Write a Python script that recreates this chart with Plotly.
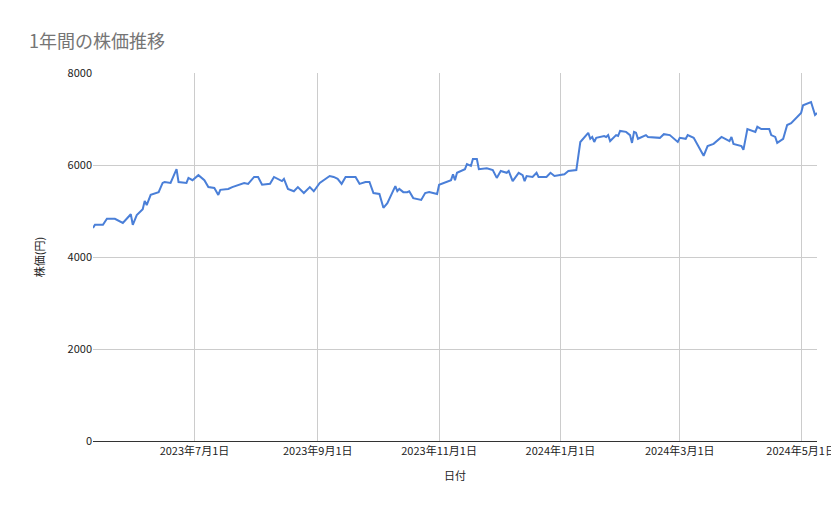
import plotly.graph_objects as go

dates = [
    "2023-05-11", "2023-05-12", "2023-05-16", "2023-05-18", "2023-05-22", "2023-05-26",
    "2023-05-30", "2023-05-31", "2023-06-02", "2023-06-05", "2023-06-06", "2023-06-07",
    "2023-06-09", "2023-06-13", "2023-06-15", "2023-06-16", "2023-06-19", "2023-06-20",
    "2023-06-22", "2023-06-23", "2023-06-27", "2023-06-28", "2023-06-30", "2023-07-03",
    "2023-07-06", "2023-07-08", "2023-07-11", "2023-07-13", "2023-07-14", "2023-07-18",
    "2023-07-20", "2023-07-26", "2023-07-28", "2023-07-31", "2023-08-02", "2023-08-04",
    "2023-08-08", "2023-08-10", "2023-08-14", "2023-08-15", "2023-08-17", "2023-08-20",
    "2023-08-22", "2023-08-25", "2023-08-28", "2023-08-30", "2023-09-02", "2023-09-07",
    "2023-09-09", "2023-09-11", "2023-09-13", "2023-09-15", "2023-09-20", "2023-09-22",
    "2023-09-25", "2023-09-27", "2023-09-29", "2023-10-02", "2023-10-04", "2023-10-06",
    "2023-10-10", "2023-10-11", "2023-10-12", "2023-10-14", "2023-10-16", "2023-10-17",
    "2023-10-19", "2023-10-23", "2023-10-25", "2023-10-27", "2023-10-30", "2023-10-31",
    "2023-11-01", "2023-11-07", "2023-11-08", "2023-11-09", "2023-11-10", "2023-11-14",
    "2023-11-15", "2023-11-17", "2023-11-18", "2023-11-20", "2023-11-21", "2023-11-25",
    "2023-11-28", "2023-11-30", "2023-12-02", "2023-12-05", "2023-12-06", "2023-12-08",
    "2023-12-11", "2023-12-13", "2023-12-14", "2023-12-15", "2023-12-18", "2023-12-20",
    "2023-12-21", "2023-12-25", "2023-12-27", "2023-12-29", "2024-01-03", "2024-01-05",
    "2024-01-09", "2024-01-10", "2024-01-11", "2024-01-15", "2024-01-16", "2024-01-17",
    "2024-01-18", "2024-01-19", "2024-01-23", "2024-01-24", "2024-01-25", "2024-01-26",
    "2024-01-29", "2024-01-30", "2024-01-31", "2024-02-03", "2024-02-05", "2024-02-06",
    "2024-02-07", "2024-02-08", "2024-02-09", "2024-02-13", "2024-02-14", "2024-02-20",
    "2024-02-22", "2024-02-25", "2024-02-29", "2024-03-01", "2024-03-04", "2024-03-05",
    "2024-03-08", "2024-03-13", "2024-03-15", "2024-03-18", "2024-03-22", "2024-03-26",
    "2024-03-27", "2024-03-28", "2024-04-01", "2024-04-02", "2024-04-04", "2024-04-08",
    "2024-04-09", "2024-04-11", "2024-04-15", "2024-04-16", "2024-04-18", "2024-04-19",
    "2024-04-22", "2024-04-24", "2024-04-26", "2024-05-01", "2024-05-02", "2024-05-06",
    "2024-05-08", "2024-05-09",
]
prices = [
    4630, 4700, 4700, 4830, 4830, 4740,
    4930, 4700, 4910, 5040, 5220, 5130,
    5350, 5410, 5610, 5630, 5610, 5700,
    5910, 5630, 5610, 5720, 5670, 5780,
    5670, 5520, 5500, 5350, 5460, 5480,
    5520, 5610, 5590, 5740, 5740, 5570,
    5590, 5740, 5650, 5700, 5480, 5430,
    5520, 5390, 5520, 5430, 5610, 5760,
    5740, 5700, 5590, 5740, 5740, 5590,
    5630, 5630, 5390, 5370, 5070, 5170,
    5540, 5430, 5480, 5410, 5410, 5430,
    5280, 5240, 5390, 5410, 5370, 5370,
    5570, 5670, 5800, 5670, 5830, 5910,
    6020, 5980, 6130, 6130, 5910, 5930,
    5890, 5720, 5870, 5830, 5870, 5650,
    5830, 5780, 5650, 5760, 5740, 5830,
    5740, 5740, 5830, 5760, 5800, 5870,
    5890, 6170, 6500, 6700, 6570, 6610,
    6500, 6590, 6630, 6610, 6650, 6520,
    6650, 6630, 6740, 6720, 6650, 6480,
    6720, 6700, 6570, 6650, 6610, 6590,
    6670, 6650, 6500, 6590, 6570, 6650,
    6590, 6200, 6410, 6460, 6610, 6520,
    6610, 6460, 6410, 6330, 6780, 6720,
    6830, 6780, 6780, 6650, 6610, 6480,
    6570, 6870, 6910, 7130, 7300, 7370,
    7090, 7130,
]
tick_dates = ["2023-07-01", "2023-09-01", "2023-11-01", "2024-01-01", "2024-03-01", "2024-05-01"]
tick_labels = ["2023年7月1日", "2023年9月1日", "2023年11月1日", "2024年1月1日", "2024年3月1日", "2024年5月1日"]

font = "Noto Sans CJK JP, Roboto, sans-serif"

fig = go.Figure(go.Scatter(
    x=dates, y=prices, mode="lines",
    line=dict(color="#4a7fd8", width=2),
))

fig.update_layout(
    width=839, height=519,
    margin=dict(l=85, r=30, t=65, b=86),
    paper_bgcolor="white", plot_bgcolor="white",
    font=dict(family=font, size=11, color="#222222"),
    showlegend=False,
    title=dict(text="1年間の株価推移", x=0.025, xanchor="left", y=0.935, yanchor="middle",
               font=dict(size=18, color="#757575")),
    xaxis=dict(
        range=[dates[0], dates[-1]],
        tickmode="array", tickvals=tick_dates, ticktext=tick_labels,
        showgrid=True, gridcolor="#cccccc", zeroline=False,
        showline=True, linecolor="#333333",
        title=dict(text="日付", font=dict(size=11)),
    ),
    yaxis=dict(
        range=[0, 8000], tickvals=[0, 2000, 4000, 6000, 8000],
        showgrid=True, gridcolor="#cccccc", zeroline=False,
        title=dict(text="株価(円)", font=dict(size=11), standoff=20),
    ),
)

fig.write_html("out.html")
